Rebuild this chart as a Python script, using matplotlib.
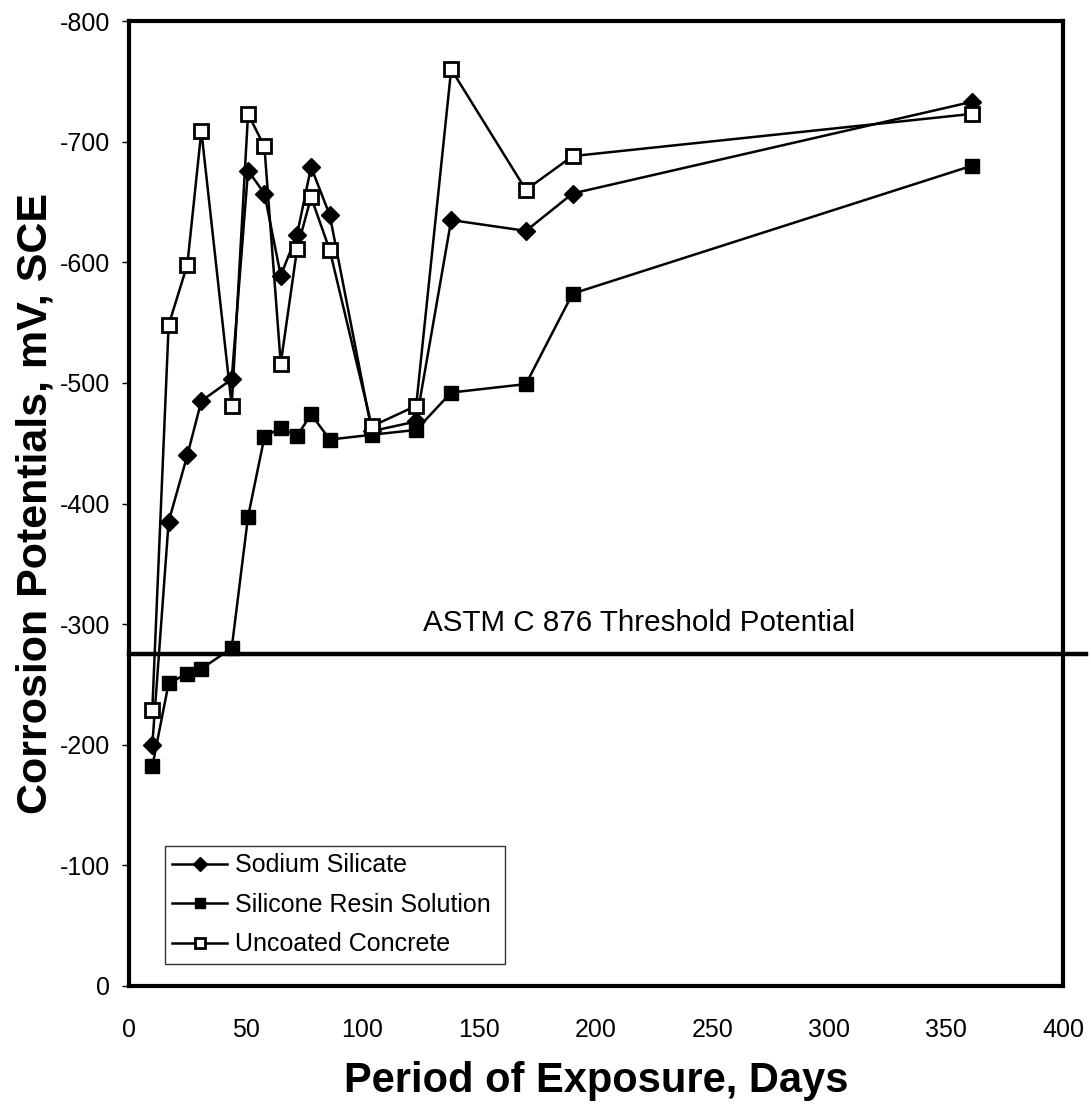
import matplotlib
matplotlib.use("Agg")
import matplotlib.pyplot as plt

plt.rcParams['font.family'] = ['Liberation Sans', 'DejaVu Sans']
plt.rcParams['axes.unicode_minus'] = False

# dias de exposicion y potenciales (mV, SCE)
days = [10, 17, 25, 31, 44, 51, 58, 65, 72, 78, 86, 104, 123, 138, 170, 190, 361]
sodium_silicate = [-200, -385, -440, -485, -503, -676, -657, -589, -623, -679,
                   -639, -460, -468, -635, -626, -657, -733]
silicone_resin = [-182, -251, -259, -263, -280, -389, -455, -463, -456, -474,
                  -453, -457, -461, -492, -499, -574, -680]
uncoated = [-229, -548, -598, -709, -481, -723, -696, -516, -611, -654,
            -610, -464, -481, -760, -660, -688, -723]

threshold = -275
threshold_label = "ASTM C 876 Threshold Potential"
x_ticks = [0, 50, 100, 150, 200, 250, 300, 350, 400]
y_ticks = [0, -100, -200, -300, -400, -500, -600, -700, -800]

fig = plt.figure(figsize=(10.91, 11.06), dpi=100)
ax = fig.add_axes([0.1182, 0.1085, 0.8561, 0.8725])

ax.plot(days, sodium_silicate, color='black', lw=1.8, marker='D', ms=9,
        mfc='black', mec='black', label='Sodium Silicate', zorder=3)
ax.plot(days, silicone_resin, color='black', lw=1.8, marker='s', ms=10,
        mfc='black', mec='black', label='Silicone Resin Solution', zorder=3)
ax.plot(days, uncoated, color='black', lw=1.8, marker='s', ms=10,
        mfc='white', mec='black', mew=2, label='Uncoated Concrete', zorder=4)

# linea umbral, sale un poco fuera del marco
ax.plot([0, 410], [threshold, threshold], color='black', lw=3.2,
        clip_on=False, zorder=2)
ax.text(126, threshold - 26, threshold_label, fontsize=21.3, va='center', ha='left')

ax.set_xlim(0, 400)
ax.set_ylim(0, -800)
ax.set_xticks(x_ticks)
ax.set_yticks(y_ticks)
ax.tick_params(axis='x', length=0, pad=23, labelsize=18)
ax.tick_params(axis='y', length=5, width=1, pad=8.5, labelsize=18)

for s in ax.spines.values():
    s.set_linewidth(3)

ax.set_xlabel("Period of Exposure, Days", fontsize=30, fontweight='bold', labelpad=14)
ax.set_ylabel("Corrosion Potentials, mV, SCE", fontsize=31, fontweight='bold', labelpad=3)

leg = ax.legend(loc='lower left', bbox_to_anchor=(0.0385, 0.0228, 0.364, 0.125),
                mode='expand', borderaxespad=0, fontsize=18, markerscale=0.75,
                handlelength=2.2, handletextpad=0.3, labelspacing=0.62,
                fancybox=False, borderpad=0.3)
leg.get_frame().set_edgecolor('black')
leg.get_frame().set_linewidth(1.0)

fig.savefig("out.png", dpi=100)
